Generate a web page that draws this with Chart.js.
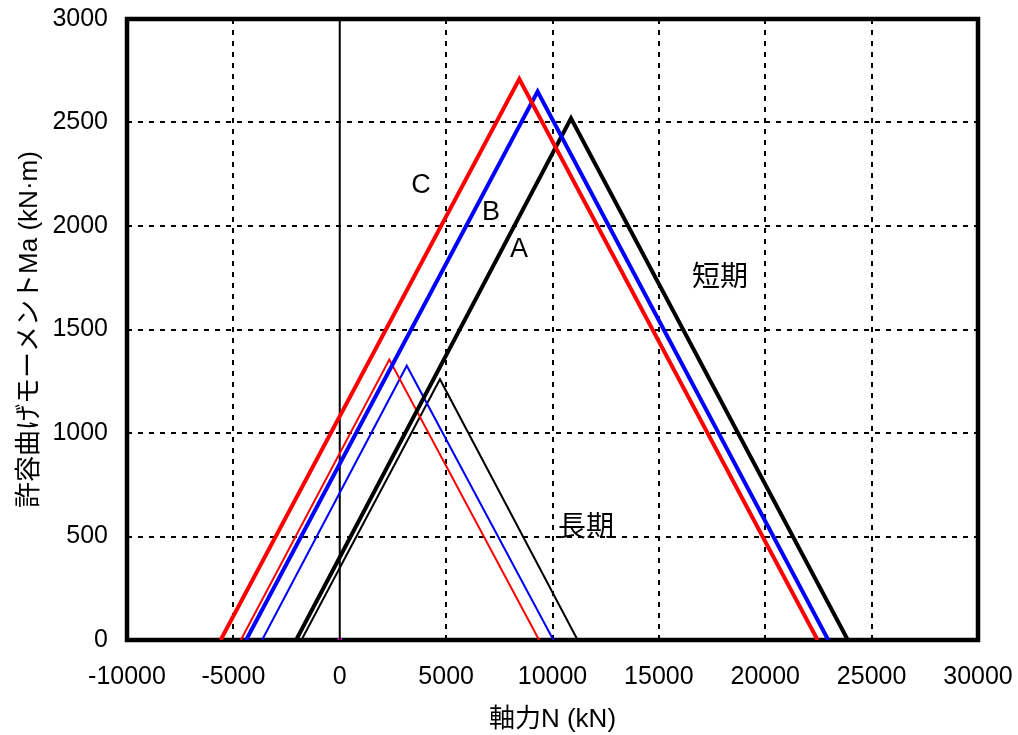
<!DOCTYPE html>
<html>
<head>
<meta charset="utf-8">
<script src="https://cdn.jsdelivr.net/npm/chart.js@4.4.1/dist/chart.umd.min.js"></script>
<style>
  html, body { margin: 0; padding: 0; background: #fff; }
  #wrap { width: 1018px; height: 735px; }
</style>
</head>
<body>
<div id="wrap"><canvas id="chart" width="1018" height="735"></canvas></div>
<script>
// 軸力 N (kN) / 許容曲げモーメント Ma (kN·m) at the three corners of each curve
const shortCN = [-5600, 8440, 22460];
const shortCM = [0, 2710, 0];
const shortBN = [-4400, 9300, 22960];
const shortBM = [0, 2650, 0];
const shortAN = [-2050, 10870, 23880];
const shortAM = [0, 2520, 0];

const longCN = [-4650, 2330, 9370];
const longCM = [0, 1355, 0];
const longBN = [-3650, 3150, 10040];
const longBM = [0, 1325, 0];
const longAN = [-1800, 4710, 11180];
const longAM = [0, 1260, 0];

const xTicks = [-10000, -5000, 0, 5000, 10000, 15000, 20000, 25000, 30000];
const yTicks = [0, 500, 1000, 1500, 2000, 2500, 3000];

// text labels inside the plot (data coordinates)
const noteText = ["C", "B", "A", "短期", "長期"];
const noteN = [3820, 7110, 8420, 17870, 11570];
const noteM = [2195, 2064, 1886, 1746, 540];

const FONT = "'Liberation Sans', Arial, 'Noto Sans CJK JP', sans-serif";

function pts(xs, ys) {
  return xs.map((x, i) => ({ x: x, y: ys[i] }));
}

function curve(xs, ys, color, width) {
  return {
    data: pts(xs, ys),
    borderColor: color,
    backgroundColor: color,
    borderWidth: width,
    pointRadius: 0,
    showLine: true,
    fill: false,
    tension: 0
  };
}

// the layout padding alone places the plot area
function noPad(s) {
  s.paddingTop = 0;
  s.paddingBottom = 0;
  s.paddingLeft = 0;
  s.paddingRight = 0;
}

// thick frame round the plot
const frame = {
  id: "frame",
  beforeDatasetsDraw(chart) {
    const a = chart.chartArea;
    const ctx = chart.ctx;
    ctx.save();
    ctx.strokeStyle = "#000";
    ctx.lineWidth = 4.5;
    ctx.strokeRect(a.left, a.top, a.right - a.left, a.bottom - a.top);
    ctx.restore();
  }
};

const notes = {
  id: "notes",
  afterDatasetsDraw(chart) {
    const ctx = chart.ctx;
    const sx = chart.scales.x, sy = chart.scales.y;
    ctx.save();
    ctx.fillStyle = "#000";
    ctx.textAlign = "center";
    ctx.textBaseline = "middle";
    noteText.forEach((t, i) => {
      ctx.font = (t.length > 1 ? "28px " : "27px ") + FONT;
      ctx.fillText(t, sx.getPixelForValue(noteN[i]), sy.getPixelForValue(noteM[i]));
    });
    ctx.restore();
  }
};

new Chart(document.getElementById("chart"), {
  type: "scatter",
  data: {
    datasets: [
      curve(shortCN, shortCM, "#ff0000", 4),
      curve(shortBN, shortBM, "#0000ff", 4),
      curve(shortAN, shortAM, "#000000", 4),
      curve(longCN, longCM, "#ff0000", 2),
      curve(longBN, longBM, "#0000ff", 2),
      curve(longAN, longAM, "#000000", 2),
      curve([0, 0], [0, 3000], "#000000", 2),
      {
        data: [{ x: 0, y: 0 }],
        pointStyle: "rect",
        pointRadius: 3,
        backgroundColor: "#ff00ff",
        borderColor: "#ff00ff",
        borderWidth: 0
      }
    ]
  },
  options: {
    responsive: false,
    animation: false,
    layout: { padding: { top: 19, right: 40, left: 0, bottom: 0 } },
    plugins: {
      legend: { display: false },
      tooltip: { enabled: false }
    },
    scales: {
      x: {
        type: "linear",
        min: -10000,
        max: 30000,
        afterBuildTicks: s => { s.ticks = xTicks.map(v => ({ value: v })); },
        afterFit: s => { s.height = 95; noPad(s); },
        ticks: {
          color: "#000",
          padding: 22,
          maxRotation: 0,
          font: { family: FONT, size: 25 },
          callback: v => String(v)
        },
        grid: {
          drawTicks: false,
          lineWidth: 2,
          color: c => (c.tick && (c.tick.value === 0 || c.tick.value === -10000 || c.tick.value === 30000)) ? "rgba(0,0,0,0)" : "#000"
        },
        border: { display: false, dash: [5, 6] },
        title: {
          display: true,
          text: "軸力N (kN)",
          color: "#000",
          padding: { top: 1, bottom: 0 },
          font: { family: FONT, size: 26 }
        }
      },
      y: {
        type: "linear",
        min: 0,
        max: 3000,
        afterBuildTicks: s => { s.ticks = yTicks.map(v => ({ value: v })); },
        afterFit: s => { s.width = 127; noPad(s); },
        ticks: {
          color: "#000",
          padding: 19,
          font: { family: FONT, size: 25 },
          callback: v => String(v)
        },
        grid: {
          drawTicks: false,
          lineWidth: 2,
          color: c => (c.tick && (c.tick.value === 0 || c.tick.value === 3000)) ? "rgba(0,0,0,0)" : "#000"
        },
        border: { display: false, dash: [5, 6] },
        title: {
          display: true,
          text: "許容曲げモーメントMa (kN·m)",
          color: "#000",
          padding: { top: 14, bottom: 0 },
          font: { family: FONT, size: 26 }
        }
      }
    }
  },
  plugins: [frame, notes]
});
</script>
</body>
</html>
